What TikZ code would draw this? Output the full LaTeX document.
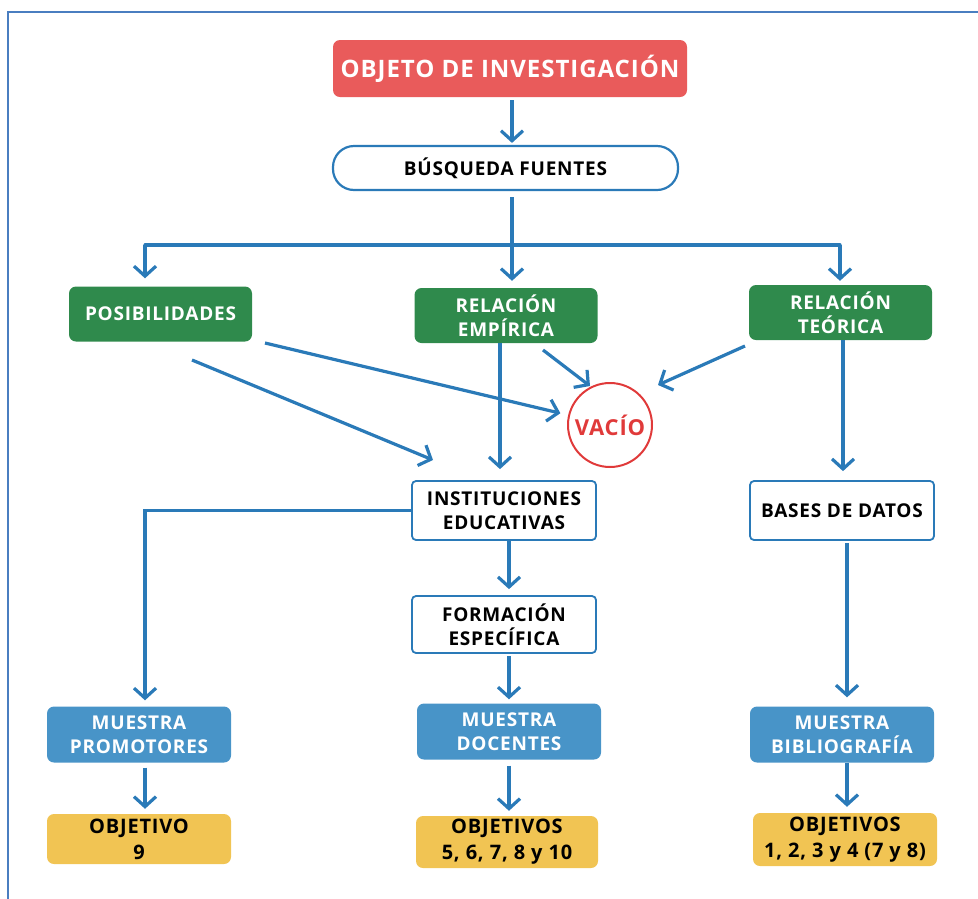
\documentclass[tikz,border=0pt]{standalone}
\usepackage{fontspec}
\setmainfont{Open Sans}[LetterSpace=4]
\usetikzlibrary{arrows.meta}
\definecolor{objred}{HTML}{E95B5B}
\definecolor{relgreen}{HTML}{2F8A4C}
\definecolor{mublue}{HTML}{4894C8}
\definecolor{objyellow}{HTML}{F1C453}
\definecolor{flowblue}{HTML}{2A7AB8}
\definecolor{framecol}{HTML}{4A7EC0}
\definecolor{gapred}{HTML}{E03A3A}
\tikzset{
  boxbase/.style={rounded corners=7pt, align=center, inner sep=2pt,
    font=\bfseries\fontsize{19}{24}\selectfont},
  redbox/.style={boxbase, fill=objred, text=white, minimum width=354pt,
    minimum height=57pt, font=\bfseries\fontsize{24}{28}\selectfont},
  pill/.style={boxbase, draw=flowblue, line width=2.2pt, rounded corners=21pt,
    minimum width=345pt, minimum height=44pt},
  greenbox/.style={boxbase, fill=relgreen, text=white, minimum width=183pt,
    minimum height=55pt},
  whitebox/.style={boxbase, draw=flowblue, line width=1.8pt, rounded corners=4pt,
    minimum width=184pt, minimum height=59pt},
  bluebox/.style={boxbase, fill=mublue, text=white, minimum width=184pt,
    minimum height=56pt},
  yellowbox/.style={boxbase, fill=objyellow, text=black, minimum width=184pt,
    minimum height=51pt, font=\bfseries\fontsize{20}{26}\selectfont},
  gapcircle/.style={circle, draw=gapred, line width=2pt, minimum size=84pt,
    inner sep=0pt, text=gapred, font=\bfseries\fontsize{22}{26}\selectfont},
  flow/.style={draw=flowblue, line width=3.2pt},
  arr/.style={flow, -{Straight Barb[length=10pt, width=22pt, line width=3.2pt]}},
}
\begin{document}
\begin{tikzpicture}[x=1pt, y=-1pt]
\useasboundingbox (0,0) rectangle (978,898);
% outer frame
\draw[framecol, line width=1.6pt] (8,905) -- (8,12) -- (990,12);

% nodes
\node[redbox] (obj) at (510,68.5) {OBJETO DE INVESTIGACIÓN};
\node[pill] (bus) at (505.5,168) {BÚSQUEDA FUENTES};
\node[greenbox] (pos) at (160.5,314) {POSIBILIDADES};
\node[greenbox] (emp) at (506,315.5) {RELACIÓN\\EMPÍRICA};
\node[greenbox] (teo) at (840.5,312.5) {RELACIÓN\\TEÓRICA};
\node[gapcircle] (vac) at (610,425) {VACÍO};
\node[whitebox] (inst) at (504,510.5) {INSTITUCIONES\\EDUCATIVAS};
\node[whitebox] (bases) at (842,510.5) {BASES DE DATOS};
\node[whitebox, minimum height=57pt] (form) at (504,624.5) {FORMACIÓN\\ESPECÍFICA};
\node[bluebox] (prom) at (139,734.5) {MUESTRA\\PROMOTORES};
\node[bluebox] (doc) at (509,731.5) {MUESTRA\\DOCENTES};
\node[bluebox] (bib) at (842,734.5) {MUESTRA\\BIBLIOGRAFÍA};
\node[yellowbox, minimum height=50pt] (o9) at (139,839) {OBJETIVO\\9};
\node[yellowbox, minimum width=182pt, minimum height=52pt] (o5) at (507,842) {OBJETIVOS\\5, 6, 7, 8 y 10};
\node[yellowbox, minimum height=53pt] (o1) at (845,839.5) {OBJETIVOS\\1, 2, 3 y 4 (7 y 8)};

% guide coordinates for the connector lines
\coordinate (cx) at (512,0);
\coordinate (split) at (512,245);
\coordinate (sl) at (145,245);
\coordinate (sr) at (840,245);
\coordinate (ex) at (500,0);
\coordinate (tx) at (843,0);
\coordinate (corner) at (145,510.5);
\coordinate (dx) at (509,0);
\coordinate (bx) at (847,0);
\coordinate (pa) at (265,343);
\coordinate (pb) at (192,360);
\coordinate (pbend) at (433,460);
\coordinate (ea) at (543,350);
\coordinate (eaend) at (590,386);
\coordinate (ta) at (745,346);
\coordinate (taend) at (658,385);

% top chain
\draw[arr, shorten <=3pt, shorten >=2pt] (obj.south -| cx) -- (bus.north -| cx);
\draw[flow, shorten <=6pt] (bus.south -| cx) -- (split);
\draw[flow, line cap=round] (sl) -- (sr);
\draw[arr, shorten >=8pt] (sl) -- (sl |- pos.north);
\draw[arr, shorten >=7pt] (split) -- (split |- emp.north);
\draw[arr, shorten >=4pt] (sr) -- (sr |- teo.north);

% into the gap and the institutions
\draw[arr, shorten >=8pt] (pa) -- (vac);
\draw[arr] (pb) -- (pbend);
\draw[arr] (ea) -- (eaend);
\draw[arr] (ta) -- (taend);
\draw[arr, shorten >=11pt] (emp.south -| ex) -- (inst.north -| ex);
\draw[arr, shorten >=9pt] (teo.south -| tx) -- (bases.north -| tx);

% lower chains
\draw[arr, shorten >=6pt] (inst.west) -- (corner) -- (corner |- prom.north);
\draw[arr, shorten >=6pt] (inst.south -| dx) -- (form.north -| dx);
\draw[arr, shorten <=2pt, shorten >=4pt] (form.south -| dx) -- (doc.north -| dx);
\draw[arr, shorten <=2pt, shorten >=9pt] (bases.south -| bx) -- (bib.north -| bx);
\draw[arr, shorten <=5pt, shorten >=5pt] (prom.south -| sl) -- (o9.north -| sl);
\draw[arr, shorten <=6pt, shorten >=5pt] (doc.south -| dx) -- (o5.north -| dx);
\draw[arr, shorten <=0pt, shorten >=6pt] (bib.south -| bx) -- (o1.north -| bx);
\end{tikzpicture}
\end{document}
